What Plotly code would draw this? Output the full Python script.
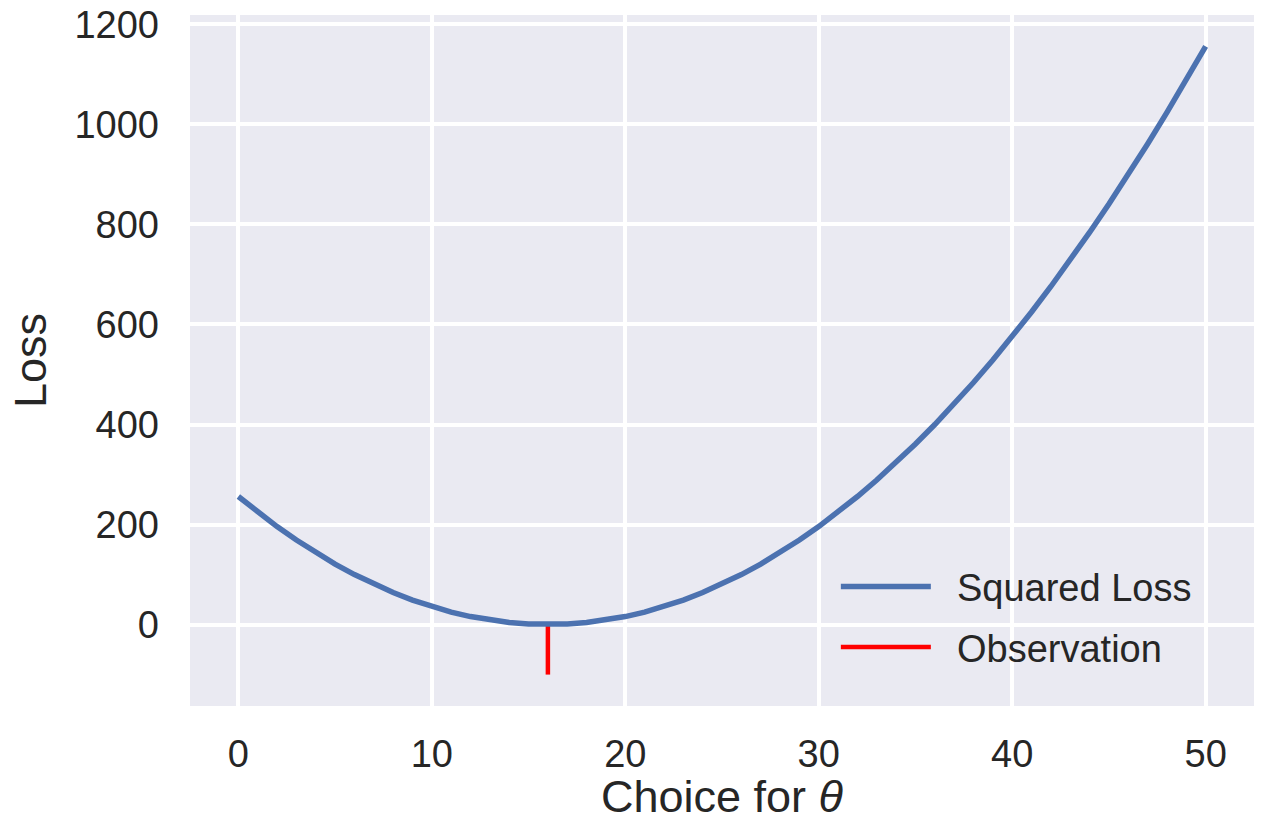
import plotly.graph_objects as go

# Data
theta = list(range(0, 51))
loss = [256, 225, 196, 169, 144, 121, 100, 81, 64, 49,
        36, 25, 16, 9, 4, 1, 0, 1, 4, 9,
        16, 25, 36, 49, 64, 81, 100, 121, 144, 169,
        196, 225, 256, 289, 324, 361, 400, 441, 484, 529,
        576, 625, 676, 729, 784, 841, 900, 961, 1024, 1089,
        1156]
obs_x = [16, 16]
obs_y = [-100, 0]

x_ticks = [0, 10, 20, 30, 40, 50]
y_ticks = [0, 200, 400, 600, 800, 1000, 1200]

FONT = "Liberation Sans, Arial, sans-serif"
TXT = "#262626"
GAP = "\u00a0\u00a0"

fig = go.Figure()
fig.add_trace(go.Scatter(x=obs_x, y=obs_y, mode="lines", name=GAP + "Observation",
                         line=dict(color="#ff0000", width=4.5), legendrank=2,
                         legendgroup="b"))
fig.add_trace(go.Scatter(x=theta, y=loss, mode="lines", name=GAP + "Squared Loss",
                         line=dict(color="#4c72b0", width=5.5), legendrank=1,
                         legendgroup="a"))

fig.update_layout(
    width=1266, height=822,
    margin=dict(l=190, r=12, t=15, b=116),
    paper_bgcolor="white",
    plot_bgcolor="#eaeaf2",
    font=dict(family=FONT, size=38, color=TXT),
    showlegend=True,
    legend=dict(x=0.607, y=0.218, xanchor="left", yanchor="top",
                bgcolor="rgba(0,0,0,0)", font=dict(size=38, color=TXT),
                itemwidth=90, tracegroupgap=8),
    xaxis=dict(range=[-2.5, 52.5], tickvals=x_ticks, showgrid=True,
               gridcolor="white", gridwidth=3.5, zeroline=False, showline=False,
               ticks="", ticklabelstandoff=22, automargin=False,
               title=dict(text="Choice for <i>θ</i>", font=dict(size=45), standoff=5)),
    yaxis=dict(range=[-162.8, 1218.8], tickvals=y_ticks, showgrid=True,
               gridcolor="white", gridwidth=3.5, zeroline=False, showline=False,
               ticks="", ticklabelstandoff=30, automargin=False,
               title=dict(text="Loss", font=dict(size=45), standoff=13)),
)

fig.write_html("out.html")
